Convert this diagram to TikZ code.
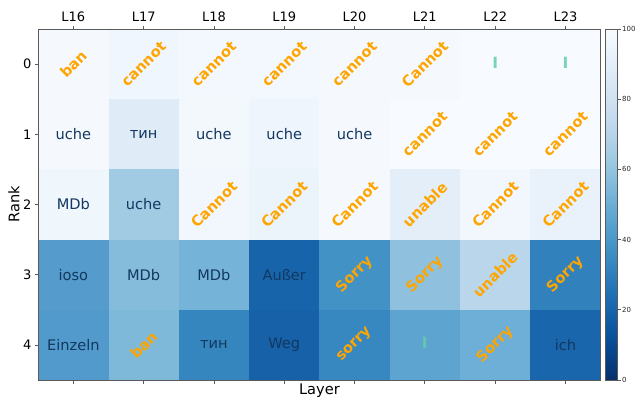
\documentclass[tikz,border=0pt]{standalone}
\usepackage{fontspec}
\setmainfont{DejaVu Sans}
\definecolor{txtdark}{RGB}{18,56,96}
\definecolor{orng}{HTML}{FFA500}
\definecolor{mint}{HTML}{66CDAA}
\definecolor{spine}{RGB}{90,90,90}
\tikzset{
  dk/.style={text=txtdark, font=\fontsize{14.6}{14.6}\selectfont, inner sep=0pt},
  org/.style={text=orng, font=\fontsize{14.6}{14.6}\selectfont\bfseries, rotate=45, inner sep=0pt},
  grn/.style={text=mint, text opacity=0.85, font=\fontsize{15.5}{15.5}\selectfont\bfseries, inner sep=0pt},
  ticklab/.style={font=\fontsize{13}{13}\selectfont, text=black, inner sep=0pt},
  axlab/.style={font=\fontsize{14.6}{14.6}\selectfont, text=black, inner sep=0pt},
  cblab/.style={font=\fontsize{7}{7}\selectfont, text=black!85, inner sep=0pt},
  tk/.style={draw=spine, line width=0.8pt}
}
\begin{document}
\begin{tikzpicture}[x=1pt,y=-1pt]
\useasboundingbox (0,0) rectangle (637,399);
% cells
\foreach \r/\cols in {
  0/{F5F9FE,F0F6FD,F3F8FE,F3F8FE,F5F9FE,F5F9FE,F7FBFF,F7FBFF},
  1/{F5F9FE,DFEBF7,F3F8FD,EEF5FC,F5F9FE,F7FBFF,F7FBFF,F7FBFF},
  2/{EFF6FC,A0CBE2,F2F7FD,EBF3FB,F5F9FE,E3EEF9,F1F7FD,E9F2FA},
  3/{559BCC,85BCDC,75B4D8,1864AB,4292C6,8FC1DE,B9D6EA,3181BD},
  4/{529ACB,7FB9DA,3585BF,1761A8,3787C0,5EA4D0,6DAFD7,1966AD}}{
  \foreach \c [count=\i from 0] in \cols {
    \definecolor{cellc}{HTML}{\c}
    \fill[cellc] ({38.2+70.3*\i},{29+70.2*\r}) rectangle ({38.2+70.3*(\i+1)+0.3},{29+70.2*(\r+1)+0.3});
  }
}
% row 0
\node[org] (t00) at (73.35,64.1) {ban};
\node[org] (t01) at (143.65,64.1) {cannot};
\node[org] (t02) at (213.95,64.1) {cannot};
\node[org] (t03) at (284.25,64.1) {cannot};
\node[org] (t04) at (354.55,64.1) {cannot};
\node[org] (t05) at (424.85,64.1) {Cannot};
\node[grn] (t06) at (495.15,62.5) {I};
\node[grn] (t07) at (565.45,62.5) {I};
% row 1
\node[dk] (t10) at (73.35,134.3) {uche};
\node[dk] (t11) at (143.65,134.3) {тин};
\node[dk] (t12) at (213.95,134.3) {uche};
\node[dk] (t13) at (284.25,134.3) {uche};
\node[dk] (t14) at (354.55,134.3) {uche};
\node[org] (t15) at (424.85,134.3) {cannot};
\node[org] (t16) at (495.15,134.3) {cannot};
\node[org] (t17) at (565.45,134.3) {cannot};
% row 2
\node[dk] (t20) at (73.35,204.5) {MDb};
\node[dk] (t21) at (143.65,204.5) {uche};
\node[org] (t22) at (213.95,204.5) {Cannot};
\node[org] (t23) at (284.25,204.5) {Cannot};
\node[org] (t24) at (354.55,204.5) {Cannot};
\node[org] (t25) at (424.85,204.5) {unable};
\node[org] (t26) at (495.15,204.5) {Cannot};
\node[org] (t27) at (565.45,204.5) {Cannot};
% row 3
\node[dk] (t30) at (73.35,274.7) {ioso};
\node[dk] (t31) at (143.65,274.7) {MDb};
\node[dk] (t32) at (213.95,274.7) {MDb};
\node[dk] (t33) at (284.25,274.7) {Außer};
\node[org] (t34) at (354.55,274.7) {Sorry};
\node[org] (t35) at (424.85,274.7) {Sorry};
\node[org] (t36) at (495.15,274.7) {unable};
\node[org] (t37) at (565.45,274.7) {Sorry};
% row 4
\node[dk] (t40) at (73.35,344.9) {Einzeln};
\node[org] (t41) at (143.65,344.9) {ban};
\node[dk] (t42) at (213.95,344.9) {тин};
\node[dk] (t43) at (284.25,344.9) {Weg};
\node[org] (t44) at (354.55,344.9) {sorry};
\node[grn] (t45) at (424.85,343.3) {I};
\node[org] (t46) at (495.15,344.9) {Sorry};
\node[dk] (t47) at (565.45,344.9) {ich};
% frame
\draw[spine, line width=0.9pt] (38.2,29) rectangle (600.6,380);
% x ticks top & bottom with labels
\foreach \lab [count=\i from 0] in {L16,L17,L18,L19,L20,L21,L22,L23} {
  \draw[tk] ({73.35+70.3*\i},29) -- ({73.35+70.3*\i},25.5);
  \draw[tk] ({73.35+70.3*\i},380) -- ({73.35+70.3*\i},383.5);
  \node[ticklab, anchor=base] (xl\i) at ({73.35+70.3*\i},21.3) {\lab};
}
% y ticks
\foreach \i in {0,...,4} {
  \draw[tk] (38.2,{64.1+70.2*\i}) -- (34.7,{64.1+70.2*\i});
  \node[ticklab, anchor=east] (yl\i) at (31.5,{64.1+70.2*\i}) {\i};
}
\node[axlab, rotate=90] (rank) at (14,204.5) {Rank};
\node[axlab] (layer) at (319.4,390.5) {Layer};
% colorbar
\foreach \ya/\yb/\ca/\cb in {
  380/335.8/08306B/08519C,
  336.125/291.9/08519C/2171B5,
  292.25/248.0/2171B5/4292C6,
  248.375/204.2/4292C6/6BAED6,
  204.5/160.3/6BAED6/9ECAE1,
  160.625/116.4/9ECAE1/C6DBEF,
  116.75/72.6/C6DBEF/DEEBF7,
  72.875/29/DEEBF7/F7FBFF} {
  \definecolor{cbA}{HTML}{\ca}
  \definecolor{cbB}{HTML}{\cb}
  \shade[bottom color=cbA, top color=cbB] (605.5,\ya) rectangle (617,\yb);
}
\draw[spine, line width=0.9pt] (605.5,29) rectangle (617,380);
\foreach \v [count=\k from 0] in {0,20,40,60,80,100} {
  \draw[tk] (617,{380-70.2*\k}) -- (620.5,{380-70.2*\k});
  \node[cblab, anchor=west] (cb\k) at (622,{380-70.2*\k}) {\v};
}
\end{tikzpicture}
\end{document}
